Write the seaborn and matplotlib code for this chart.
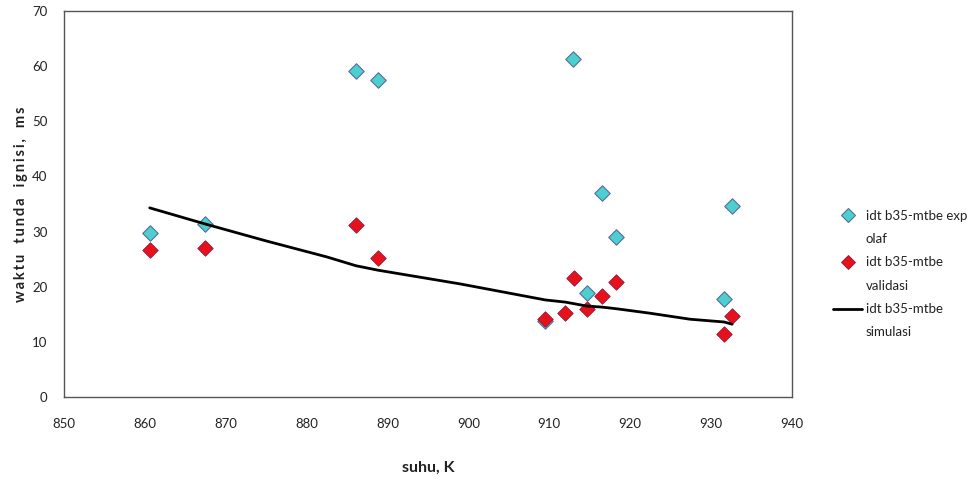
import matplotlib
matplotlib.use("Agg")
import matplotlib.pyplot as plt
import seaborn as sns
import pandas as pd
from matplotlib.lines import Line2D

# data
exp_T = [860.6, 867.4, 886.1, 888.8, 912.9, 916.5, 918.3, 932.6, 914.6, 931.6, 909.5]
exp_idt = [29.7, 31.4, 59.1, 57.5, 61.3, 37.0, 29.0, 34.7, 18.9, 17.7, 13.7]

val_T = [860.6, 867.4, 886.1, 888.8, 913.0, 918.3, 916.5, 912.0, 914.6, 909.5, 932.6, 931.6]
val_idt = [26.7, 27.0, 31.2, 25.2, 21.5, 20.9, 18.3, 15.2, 15.9, 14.1, 14.7, 11.5]

sim_T = [860.6, 867.4, 875.0, 882.5, 886.1, 888.8, 899.0, 909.5, 912.0, 914.6,
         916.5, 918.3, 922.4, 927.4, 931.6, 932.6]
sim_idt = [34.3, 31.4, 28.3, 25.4, 23.8, 23.0, 20.5, 17.6, 17.2, 16.5,
           16.3, 16.0, 15.2, 14.1, 13.6, 13.2]

x_ticks = [850, 860, 870, 880, 890, 900, 910, 920, 930, 940]
y_ticks = [0, 10, 20, 30, 40, 50, 60, 70]
label_lines = ["idt b35-mtbe exp", "olaf", "idt b35-mtbe", "validasi", "idt b35-mtbe", "simulasi"]

sns.set_theme(style="white")
plt.rcParams['font.family'] = ['Lato', 'DejaVu Sans']

fig = plt.figure(figsize=(9.72, 4.8), dpi=100)
ax = fig.add_axes([0.0658, 0.173, 0.749, 0.804])

cyan = "#4ccfcf"
cyan_edge = "#5b6b9b"
red = "#e8101a"
red_edge = "#8a1a40"

df_e = pd.DataFrame({"T": exp_T, "idt": exp_idt})
df_v = pd.DataFrame({"T": val_T, "idt": val_idt})
df_s = pd.DataFrame({"T": sim_T, "idt": sim_idt})

sns.scatterplot(data=df_e, x="T", y="idt", marker="D", s=62, color=cyan,
                edgecolor=cyan_edge, linewidth=0.8, ax=ax, zorder=3)
sns.scatterplot(data=df_v, x="T", y="idt", marker="D", s=62, color=red,
                edgecolor=red_edge, linewidth=0.6, ax=ax, zorder=4)
sns.lineplot(data=df_s, x="T", y="idt", color="black", linewidth=2.0, ax=ax,
             zorder=5, estimator=None, sort=False)

ax.set_xlim(850, 940)
ax.set_ylim(0, 70)
ax.set_xticks(x_ticks)
ax.set_yticks(y_ticks)
ax.set_xticklabels([str(v) for v in x_ticks], fontsize=9.5)
ax.set_yticklabels([str(v) for v in y_ticks], fontsize=9.5)
ax.tick_params(axis="x", length=0, pad=15, colors="#222222")
ax.tick_params(axis="y", length=0, pad=12, colors="#222222")
for sp in ax.spines.values():
    sp.set_color("#555555")
    sp.set_linewidth(1.0)
ax.grid(False)

ax.set_xlabel("suhu, K", fontsize=11.5, fontweight="bold", labelpad=22, color="#222222")
ylab = "\u2009\u2009 \u2009\u2009".join("\u2009".join(w) for w in "waktu tunda ignisi, ms".split(" "))
ax.set_ylabel(ylab, fontsize=10.5, fontweight="bold", labelpad=3, color="#222222")

blank = Line2D([], [], linestyle="none", marker=None)
handles = [
    Line2D([], [], marker="D", linestyle="none", markersize=7, markerfacecolor=cyan,
           markeredgecolor=cyan_edge, markeredgewidth=0.8),
    blank,
    Line2D([], [], marker="D", linestyle="none", markersize=7, markerfacecolor=red,
           markeredgecolor=red_edge, markeredgewidth=0.6),
    blank,
    Line2D([], [], color="black", linewidth=2.0),
    blank,
]
leg = fig.legend(handles, label_lines, loc="upper left", bbox_to_anchor=(0.857, 0.563),
                 frameon=False, fontsize=9.5, handlelength=2.2, handletextpad=0.3,
                 labelspacing=0.86, borderaxespad=0, borderpad=0)
for t in leg.get_texts():
    t.set_color("#222222")

fig.savefig("out.png", dpi=100)
